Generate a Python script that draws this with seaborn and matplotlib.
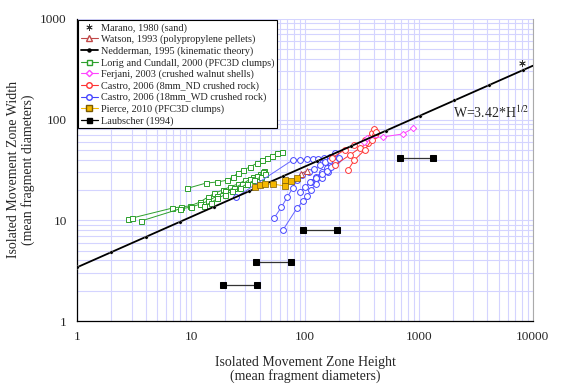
import numpy as np
import pandas as pd
import matplotlib
matplotlib.use("Agg")
import matplotlib.pyplot as plt
from matplotlib.lines import Line2D
from matplotlib.ticker import FixedLocator, LogLocator, NullFormatter
import seaborn as sns

sns.set_style("white")
plt.rcParams["font.family"] = ["Liberation Serif", "DejaVu Serif"]
plt.rcParams["mathtext.fontset"] = "stix"

# --- data (H = height, W = width, mean fragment diameters) ---
marano_h = [8000]
marano_w = [365]

watson_h = [92, 104]
watson_w = [29, 31]

nedderman_h = [1, 2, 4, 8, 16, 32, 64, 128, 256, 512, 1024, 2048, 4096, 8192]
nedderman_coef = 3.42

lorig_curves = {
    "g1": ([9.2, 13.5, 16.9, 20.7, 23.4, 25.8, 28.6, 32.9, 37.9, 41.8, 46.4, 51.4, 56.7, 62.8],
           [20.7, 23.4, 24.0, 25.0, 27.0, 29.5, 31.6, 33.8, 37.0, 39.6, 41.5, 43.5, 46.6, 47.6]),
    "g2": ([2.8, 3.0, 6.8, 8.2, 9.8, 12.0, 14.0, 16.0, 19.0, 22.0, 26.0, 30.0, 35.0, 40.0, 44.0],
           [10.3, 10.5, 13.2, 13.6, 13.9, 15.2, 17.0, 18.5, 20.0, 21.5, 23.0, 25.0, 27.0, 29.0, 31.0]),
    "g3": ([3.6, 8.0, 10.0, 12.0, 14.0, 17.0, 20.0, 24.0, 28.0, 33.0, 38.0, 43.0],
           [9.8, 13.0, 13.5, 14.5, 15.5, 17.5, 19.5, 21.0, 23.0, 25.5, 27.5, 30.0]),
    "g4": ([13.0, 15.0, 17.0, 20.0, 23.0, 27.0, 31.0, 36.0, 41.0, 45.0],
           [14.0, 15.0, 16.5, 18.0, 19.5, 21.0, 23.0, 25.0, 27.0, 28.5]),
}

ferjani_h = [330, 350, 483, 724, 886]
ferjani_w = [60, 65.7, 67.2, 72, 82]

castro8_curves = {
    "r1": ([172, 223, 272, 335, 385, 400], [41.5, 50, 56, 63, 74, 80]),
    "r2": ([183, 248, 302, 355, 410], [35.5, 44.5, 52, 58, 70]),
    "r3": ([238, 272, 335, 385, 420], [31.5, 39.7, 50, 63, 75]),
}

castro18_curves = {
    "b1": ([25, 78, 90, 104, 117, 129, 147, 166, 183], [17, 39.7, 39.7, 40.6, 40.6, 40.6, 41.5, 42.5, 46.5]),
    "b2": ([53.5, 62, 70, 78, 85], [10.5, 13.5, 17, 21, 25]),
    "b3": ([64, 85, 96, 104, 113, 125, 140, 160, 180], [8.0, 13.2, 15.5, 17.3, 20, 23, 26, 30, 35]),
    "b4": ([90, 100, 112, 125, 140, 155, 170, 190], [19, 21.5, 24, 27, 30, 33, 36, 40]),
    "b5": ([110, 125, 140, 155, 170, 185, 200], [24, 26, 28.5, 31, 34, 38, 42]),
    "b6": ([95, 108, 120, 135, 150, 165], [28, 30, 32, 35, 38, 40]),
}

pierce_h = [36.4, 40.3, 44.6, 52.4, 66.8, 66.8, 75.4, 85.1]
pierce_w = [21.4, 22.4, 22.9, 22.9, 21.9, 25.1, 24.5, 26.2]

laubscher_segs = {
    "l1": ([19, 38], [2.3, 2.3]),
    "l2": ([37, 75], [3.85, 3.85]),
    "l3": ([96, 191], [8.0, 8.0]),
    "l4": ([680, 1330], [41.5, 41.5]),
}


def curves_df(curves):
    rows = []
    for name, (hs, ws) in curves.items():
        for h, w in zip(hs, ws):
            rows.append({"curve": name, "H": h, "W": w})
    return pd.DataFrame(rows)


fig = plt.figure(figsize=(5.76, 3.92), dpi=100)
ax = fig.add_axes([0.134, 0.181, 0.791, 0.771])
ax.set_xscale("log")
ax.set_yscale("log")

GREEN = "#2ca02c"
RED = "#ff3333"
BLUE = "#4444ff"
PINK = "#ff44ff"
GOLD = "#f5b800"
BROWN = "#c04848"

common = dict(estimator=None, sort=False, legend=False, ax=ax)

# Nedderman line (full extent) + markers at doubling heights
ned_line = pd.DataFrame({"H": [1, 10000]})
ned_line["W"] = nedderman_coef * np.sqrt(ned_line["H"])
sns.lineplot(data=ned_line, x="H", y="W", color="black", lw=1.3, zorder=4, **common)
ned = pd.DataFrame({"H": nedderman_h})
ned["W"] = nedderman_coef * np.sqrt(ned["H"])
sns.scatterplot(data=ned, x="H", y="W", color="black", s=6, marker="o", legend=False, ax=ax, zorder=5)

sns.lineplot(data=curves_df(lorig_curves), x="H", y="W", units="curve", color=GREEN, lw=0.7,
             marker="s", ms=3.6, mfc="white", mec=GREEN, mew=0.7, zorder=3, **common)
sns.lineplot(data=curves_df(castro18_curves), x="H", y="W", units="curve", color="#6666ff", lw=0.7,
             marker="o", ms=4.2, mfc="white", mec=BLUE, mew=0.7, zorder=3, **common)
sns.lineplot(data=curves_df(castro8_curves), x="H", y="W", units="curve", color=RED, lw=0.7,
             marker="o", ms=4.2, mfc="white", mec=RED, mew=0.7, zorder=3, **common)
sns.lineplot(x=ferjani_h, y=ferjani_w, color=PINK, lw=0.7,
             marker="D", ms=3.2, mfc="white", mec=PINK, mew=0.7, zorder=3, **common)
sns.lineplot(x=watson_h, y=watson_w, color=BROWN, lw=0.7,
             marker="^", ms=4, mfc="white", mec=BROWN, mew=0.7, zorder=3, **common)
sns.lineplot(x=pierce_h, y=pierce_w, color=GOLD, lw=0.7,
             marker="s", ms=4.2, mfc=GOLD, mec="#7a5a00", mew=0.5, zorder=4, **common)
sns.lineplot(data=curves_df(laubscher_segs), x="H", y="W", units="curve", color="#333333", lw=0.9,
             marker="s", ms=4.2, mfc="black", mec="black", zorder=4, **common)
sns.scatterplot(x=marano_h, y=marano_w, marker=(6, 2, 0), s=18, color="#333333", linewidth=0.6,
                legend=False, ax=ax, zorder=5)

ax.set_xlim(1, 10000)
ax.set_ylim(1, 1000)

# Excel-like lavender grid, major and minor
ax.xaxis.set_minor_locator(LogLocator(base=10, subs=np.arange(2, 10)))
ax.yaxis.set_minor_locator(LogLocator(base=10, subs=np.arange(2, 10)))
ax.xaxis.set_minor_formatter(NullFormatter())
ax.yaxis.set_minor_formatter(NullFormatter())
ax.grid(which="both", color="#d4d4ff", lw=0.8)
ax.set_axisbelow(True)

xt = [1, 10, 100, 1000, 10000]
yt = [1, 10, 100, 1000]
ax.xaxis.set_major_locator(FixedLocator(xt))
ax.yaxis.set_major_locator(FixedLocator(yt))
ax.set_xticklabels([str(v) for v in xt], fontsize=9.5)
ax.set_yticklabels([str(v) for v in yt], fontsize=9.5)
ax.tick_params(which="major", length=4, width=0.8, color="black", direction="out")
ax.tick_params(which="minor", length=0)

for side in ["left", "bottom"]:
    ax.spines[side].set_color("black")
    ax.spines[side].set_linewidth(0.9)
ax.spines["top"].set_visible(False)
ax.spines["right"].set_color("#aaaaaa")
ax.spines["right"].set_linewidth(0.8)

ax.set_xlabel("Isolated Movement Zone Height\n(mean fragment diameters)", fontsize=10,
              labelpad=9, linespacing=1.05)
ax.set_ylabel("Isolated Movement Zone Width\n(mean fragment diameters)", fontsize=10,
              labelpad=4, linespacing=1.05)

ax.text(2000, 118, r"W=3.42*H$^{1/2}$", fontsize=10, ha="left", va="center")

handles = [
    Line2D([], [], ls="none", marker=(6, 2, 0), ms=4.5, color="#333333", mew=0.6),
    Line2D([], [], color=BROWN, lw=0.8, marker="^", ms=4, mfc="white", mec=BROWN),
    Line2D([], [], color="black", lw=1.3, marker="o", ms=2.2),
    Line2D([], [], color=GREEN, lw=0.8, marker="s", ms=3.6, mfc="white", mec=GREEN),
    Line2D([], [], color=PINK, lw=0.8, marker="D", ms=3.2, mfc="white", mec=PINK),
    Line2D([], [], color=RED, lw=0.8, marker="o", ms=4, mfc="white", mec=RED),
    Line2D([], [], color=BLUE, lw=0.8, marker="o", ms=4, mfc="white", mec=BLUE),
    Line2D([], [], color=GOLD, lw=0.8, marker="s", ms=4, mfc=GOLD, mec="#7a5a00"),
    Line2D([], [], color="black", lw=0.9, marker="s", ms=3.6, mfc="black"),
]
labels = [
    "Marano, 1980 (sand)",
    "Watson, 1993 (polypropylene pellets)",
    "Nedderman, 1995 (kinematic theory)",
    "Lorig and Cundall, 2000 (PFC3D clumps)",
    "Ferjani, 2003 (crushed walnut shells)",
    "Castro, 2006 (8mm_ND crushed rock)",
    "Castro, 2006 (18mm_WD crushed rock)",
    "Pierce, 2010 (PFC3D clumps)",
    "Laubscher (1994)",
]
leg = ax.legend(handles, labels, loc="upper left", bbox_to_anchor=(0.002, 0.995), fontsize=7.4,
                frameon=True, fancybox=False, edgecolor="black", framealpha=1,
                labelspacing=0.2, borderpad=0.25, handlelength=1.7, handletextpad=0.3,
                borderaxespad=0.0)
leg.get_frame().set_linewidth(0.8)

fig.savefig("out.png", dpi=100)
